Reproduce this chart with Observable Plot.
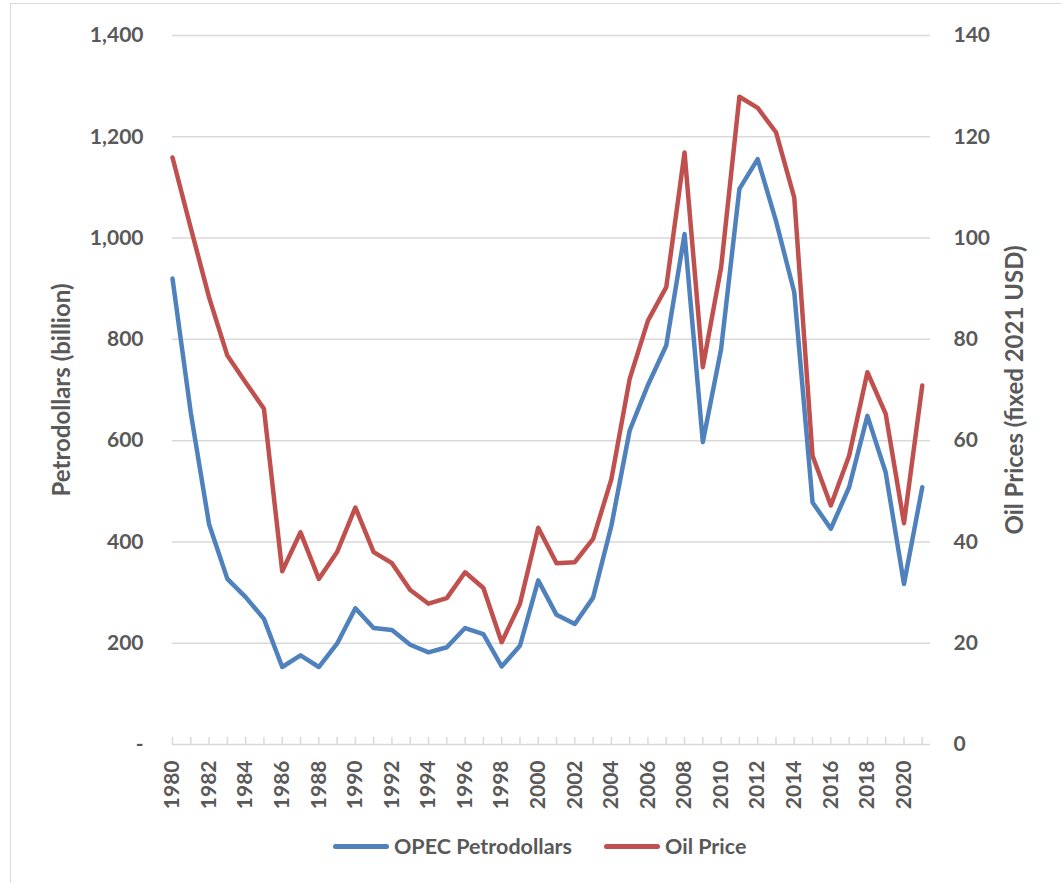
<!DOCTYPE html>
<html><head><meta charset="utf-8">
<script src="https://cdn.jsdelivr.net/npm/d3@7"></script>
<script src="https://cdn.jsdelivr.net/npm/@observablehq/plot@0.6"></script>
<style>
body{margin:0;background:#fff;font-family:Lato, sans-serif;}
#wrap{position:relative;width:1062px;height:883px;overflow:hidden;}
#frame{position:absolute;left:10px;top:3px;right:-2px;bottom:-2px;border-left:1px solid #d9d9d9;border-top:1px solid #d9d9d9;}
#chart{position:absolute;left:0;top:0;}
#legend{position:absolute;top:833px;left:333px;display:flex;align-items:center;font:bold 21.5px Lato, sans-serif;color:#595959;white-space:nowrap;}
.sw{display:inline-block;width:56px;height:5px;border-radius:3px;margin-right:5px}
.item{display:flex;align-items:center;margin-right:32px}
</style></head><body>
<div id="wrap"><div id="frame"></div><div id="chart"></div><div id="legend"></div></div>
<script>
const years = [1980,1981,1982,1983,1984,1985,1986,1987,1988,1989,1990,1991,1992,1993,1994,1995,1996,1997,1998,1999,2000,2001,2002,2003,2004,2005,2006,2007,2008,2009,2010,2011,2012,2013,2014,2015,2016,2017,2018,2019,2020,2021];
const petrodollars = [920,655,435,327,291,248,153,176,153,199,269,230,226,197,182,192,230,218,154,195,324,256,238,290,432,620,710,788,1008,597,781,1097,1156,1034,893,478,426,508,649,537,317,508];
const oilPrice = [115.9,102,88.3,76.8,71.5,66.3,34.2,41.9,32.7,38.0,46.8,38.0,35.8,30.5,27.8,28.9,34.0,30.9,20.2,27.8,42.8,35.8,36.0,40.6,52.4,72.2,83.7,90.3,116.9,74.5,94.2,127.9,125.7,120.9,108.0,57.0,47.2,57.0,73.5,65.3,43.7,70.9];
const leftTicks = [0,200,400,600,800,1000,1200,1400];
const rightTicks = [0,20,40,60,80,100,120,140];
const yearLabels = [1980,1982,1984,1986,1988,1990,1992,1994,1996,1998,2000,2002,2004,2006,2008,2010,2012,2014,2016,2018,2020];
const seriesNames = ["OPEC Petrodollars","Oil Price"];
const leftTitle = "Petrodollars (billion)";
const rightTitle = "Oil Prices (fixed 2021 USD)";
const colors = ["#4F81BD","#C0504D"];

const ratio = leftTicks[leftTicks.length-1] / rightTicks[rightTicks.length-1];
const data = years.map((year,i)=>({year, petro: petrodollars[i], oil: oilPrice[i]}));
const textColor = "#595959";

const chart = Plot.plot({
  width:1062, height:820, marginTop:35, marginBottom:76, marginLeft:172, marginRight:132,
  style:{fontFamily:"Lato, sans-serif", fontSize:"21px", fontWeight:"bold", color:textColor, background:"transparent", overflow:"visible"},
  x:{domain:[1980,2021.45]},
  y:{domain:[0,1400]},
  marks:[
    Plot.ruleY(leftTicks,{stroke:"#d9d9d9", strokeWidth:1.5}),
    Plot.ruleX(years,{x:d=>d, y1:0, y2:14, stroke:"#d9d9d9", strokeWidth:1.5}),
    Plot.axisY({ticks:leftTicks, tickSize:0, tickPadding:29, tickFormat:d=> d===0?"-":d3.format(",")(d), label:null, fill:textColor}),
    Plot.axisY({anchor:"right", ticks:rightTicks.map(d=>d*ratio), tickSize:0, tickPadding:23, tickFormat:d=>String(d/ratio), label:null, fill:textColor}),
    Plot.axisX({ticks:yearLabels, tickSize:0, tickRotate:-90, tickPadding:16, tickFormat:d=>String(d), label:null, fill:textColor}),
    Plot.text([leftTitle],{text:d=>d, frameAnchor:"left", dx:-110, rotate:-90, fontSize:24, fill:textColor, textAnchor:"middle", lineAnchor:"middle"}),
    Plot.text([rightTitle],{text:d=>d, frameAnchor:"right", dx:85, rotate:-90, fontSize:24, fill:textColor, textAnchor:"middle", lineAnchor:"middle"}),
    Plot.lineY(data,{x:"year", y:"petro", stroke:colors[0], strokeWidth:4.5, strokeLinejoin:"round", strokeLinecap:"round"}),
    Plot.lineY(data,{x:"year", y:d=>d.oil*ratio, stroke:colors[1], strokeWidth:4.5, strokeLinejoin:"round", strokeLinecap:"round"})
  ]
});
document.getElementById("chart").appendChild(chart);

const legend = document.getElementById("legend");
seriesNames.forEach((name,i)=>{
  const item = document.createElement("span");
  item.className = "item";
  item.innerHTML = `<span class="sw" style="background:${colors[i]}"></span><span>${name}</span>`;
  legend.appendChild(item);
});
</script>
</body></html>
